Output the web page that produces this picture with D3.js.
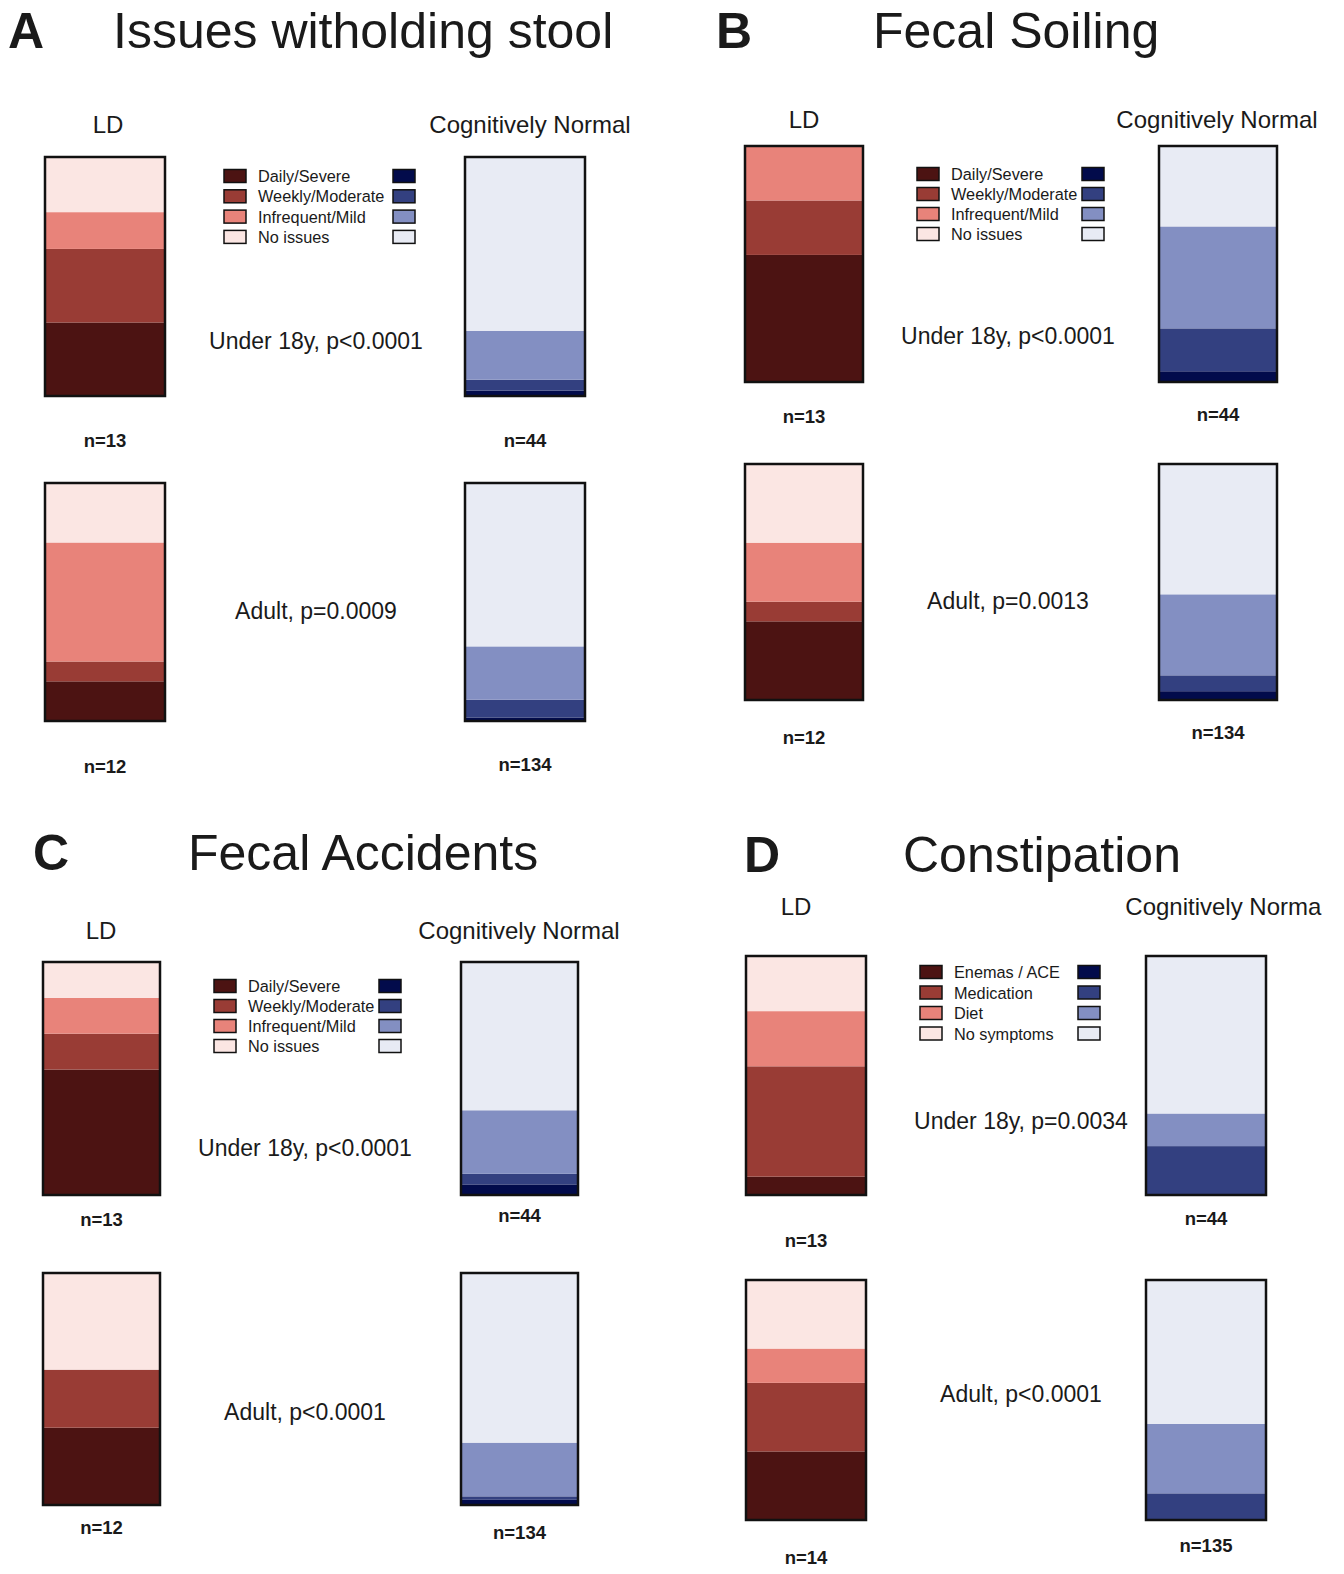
<!DOCTYPE html>
<html>
<head>
<meta charset="utf-8">
<script src="https://cdn.jsdelivr.net/npm/d3@7"></script>
<style>
  body { margin: 0; background: #fff; }
  svg { display: block; font-family: "Liberation Sans", Arial, Helvetica, sans-serif; }
</style>
</head>
<body>
<script>
// categories
var panelLetters = ["A", "B", "C", "D"];
var panelTitles = ["Issues witholding stool", "Fecal Soiling", "Fecal Accidents", "Constipation"];
var groups = ["LD", "Cognitively Normal"];
var ageGroups = ["Under 18y", "Adult"];
var severityLabels = ["Daily/Severe", "Weekly/Moderate", "Infrequent/Mild", "No issues"];
var treatmentLabels = ["Enemas / ACE", "Medication", "Diet", "No symptoms"];
var pValues = [["p<0.0001", "p=0.0009"], ["p<0.0001", "p=0.0013"], ["p<0.0001", "p<0.0001"], ["p=0.0034", "p<0.0001"]];

// counts per bar, bottom -> top (severe, moderate, mild, none); [under 18, adult]
var witholdLD = [[4, 4, 2, 3], [2, 1, 6, 3]];
var witholdCN = [[1, 2, 9, 32], [2, 10, 30, 92]];
var soilingLD = [[7, 3, 3, 0], [4, 1, 3, 4]];
var soilingCN = [[2, 8, 19, 15], [5, 9, 46, 74]];
var accidentsLD = [[7, 2, 2, 2], [4, 3, 0, 5]];
var accidentsCN = [[2, 2, 12, 28], [3, 2, 31, 98]];
var constipLD = [[1, 6, 3, 3], [4, 4, 2, 4]];
var constipCN = [[0, 9, 6, 29], [0, 15, 39, 81]];

var redColors = ["#4c1312", "#993c35", "#e8837a", "#fbe6e3"];
var blueColors = ["#020b4b", "#334080", "#838fc2", "#e8ebf4"];

var dataLD = [witholdLD, soilingLD, accidentsLD, constipLD];
var dataCN = [witholdCN, soilingCN, accidentsCN, constipCN];
var legendLabels = [severityLabels, severityLabels, severityLabels, treatmentLabels];

// where each panel sits on the page
var layout = [
  {letterX: 8, titleX: 113, titleY: 48, labelX: [108, 530], labelY: 133, barX: [45, 465], barW: 120,
   rows: [[157, 396], [483, 721]], nY: [[447, 447], [773, 771]], legX: [224, 393], legY: 176, legStep: 20.3,
   pX: 316, pY: [349, 619]},
  {letterX: 716, titleX: 873, titleY: 48, labelX: [804, 1217], labelY: 128, barX: [745, 1159], barW: 118,
   rows: [[146, 382], [464, 700]], nY: [[423, 421], [744, 739]], legX: [917, 1082], legY: 174, legStep: 20,
   pX: 1008, pY: [344, 609]},
  {letterX: 33, titleX: 188, titleY: 870, labelX: [101, 519], labelY: 939, barX: [43, 461], barW: 117,
   rows: [[962, 1195], [1273, 1505]], nY: [[1226, 1222], [1534, 1539]], legX: [214, 379], legY: 986, legStep: 20,
   pX: 305, pY: [1156, 1420]},
  {letterX: 744, titleX: 903, titleY: 872, labelX: [796, 1226], labelY: 915, barX: [746, 1146], barW: 120,
   rows: [[956, 1195], [1280, 1520]], nY: [[1247, 1225], [1564, 1552]], legX: [920, 1078], legY: 972, legStep: 20.5,
   pX: 1021, pY: [1129, 1402]}
];

var svg = d3.select("body").append("svg")
  .attr("width", 1322).attr("height", 1574);

function drawBar(g, counts, x, w, top, bottom, colors) {
  var total = d3.sum(counts);
  var y = d3.scaleLinear().domain([0, total]).range([bottom, top]);
  var ends = d3.cumsum(counts);
  g.selectAll(null)
    .data(counts).enter().append("rect")
    .attr("x", x).attr("width", w)
    .attr("y", (d, i) => y(ends[i]))
    .attr("height", (d, i) => y(ends[i] - d) - y(ends[i]))
    .attr("fill", (d, i) => colors[i]);
  g.append("rect")
    .attr("x", x).attr("y", top).attr("width", w).attr("height", bottom - top)
    .attr("fill", "none").attr("stroke", "#111").attr("stroke-width", 2.5);
}

panelLetters.forEach(function(letter, p) {
  var L = layout[p];
  var g = svg.append("g");

  g.append("text").attr("x", L.letterX).attr("y", L.titleY)
    .attr("font-size", 50).attr("font-weight", "bold").attr("fill", "#1a1a1a").text(letter);
  g.append("text").attr("x", L.titleX).attr("y", L.titleY)
    .attr("font-size", 50).attr("fill", "#1a1a1a").text(panelTitles[p]);

  g.selectAll(null).data(groups).enter().append("text")
    .attr("x", (d, i) => L.labelX[i]).attr("y", L.labelY)
    .attr("text-anchor", "middle").attr("font-size", 24).attr("fill", "#1a1a1a")
    .text(d => d);

  var sets = [dataLD[p], dataCN[p]];
  var palettes = [redColors, blueColors];
  ageGroups.forEach(function(age, r) {
    sets.forEach(function(set, k) {
      drawBar(g, set[r], L.barX[k], L.barW, L.rows[r][0], L.rows[r][1], palettes[k]);
      g.append("text")
        .attr("x", L.barX[k] + L.barW / 2).attr("y", L.nY[r][k])
        .attr("text-anchor", "middle").attr("font-size", 18.5).attr("font-weight", "bold")
        .attr("fill", "#1a1a1a")
        .text("n=" + d3.sum(set[r]));
    });
    g.append("text").attr("x", L.pX).attr("y", L.pY[r])
      .attr("text-anchor", "middle").attr("font-size", 23).attr("fill", "#1a1a1a")
      .text(age + ", " + pValues[p][r]);
  });

  // legend: red column, labels, blue column
  var labels = legendLabels[p];
  var order = [0, 1, 2, 3];
  var leg = g.append("g");
  palettes.forEach(function(pal, k) {
    leg.selectAll(null).data(order).enter().append("rect")
      .attr("x", L.legX[k]).attr("y", i => L.legY + i * L.legStep - 6.5)
      .attr("width", 22).attr("height", 13)
      .attr("fill", i => pal[i]).attr("stroke", "#111").attr("stroke-width", 1.5);
  });
  leg.selectAll(null).data(labels).enter().append("text")
    .attr("x", L.legX[0] + 34).attr("y", (d, i) => L.legY + i * L.legStep + 6)
    .attr("font-size", 16.3).attr("fill", "#1a1a1a")
    .text(d => d);
});
</script>
</body>
</html>
